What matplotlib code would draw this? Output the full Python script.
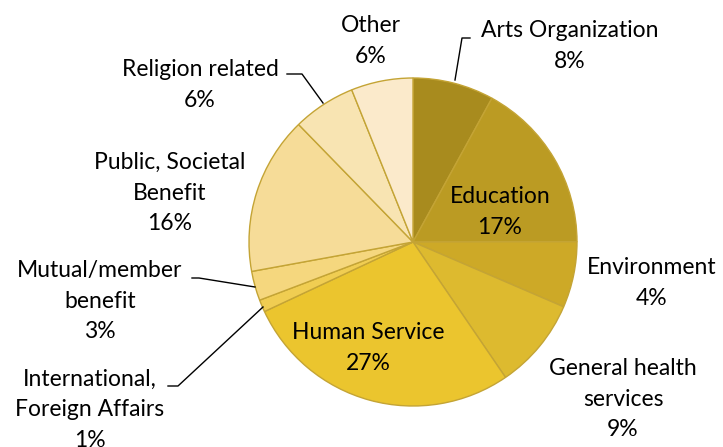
import matplotlib
matplotlib.use("Agg")
import matplotlib.pyplot as plt

# wedge sizes (clockwise from 12 o'clock)
categories = ["Arts Organization", "Education", "Environment", "General health\nservices",
              "Human Service", "International,\nForeign Affairs", "Mutual/member\nbenefit",
              "Public, Societal\nBenefit", "Religion related", "Other"]
shares = [8.0, 17.0, 6.5, 9.0, 27.6, 1.2, 2.9, 15.6, 6.2, 6.1]
pct_labels = ["8%", "17%", "4%", "9%", "27%", "1%", "3%", "16%", "6%", "6%"]
colors = ["#A88B1E", "#BB9B23", "#CDA927", "#DDBA2F", "#EBC52E",
          "#F0CD52", "#F5D77E", "#F6DC98", "#F8E4B2", "#FBEACB"]

plt.rcParams['font.family'] = ['Lato', 'DejaVu Sans']

W, H = 723, 447
fig = plt.figure(figsize=(W / 100, H / 100), dpi=100)
cx, cy, r = 413, 242, 164
ax = fig.add_axes([(cx - r) / W, (H - cy - r) / H, 2 * r / W, 2 * r / H])
ax.pie(shares, colors=colors, startangle=90, counterclock=False, radius=1,
       wedgeprops=dict(edgecolor="#C4A435", linewidth=1.0))
ax.set_xlim(-1, 1)
ax.set_ylim(-1, 1)
ax.set_aspect("equal")
ax.axis("off")

fs = 16.5
ls = 1.58


def px(x, y):
    # pixel coords (from top-left) -> figure fraction
    return x / W, 1 - y / H


# label centres in pixels
label_pos = [(570, 46), (500, 212), (652, 283), (623, 399), (368, 348),
             (90, 410), (100, 301), (170, 193), (200, 85), (371, 41)]

for name, pct, (x, y) in zip(categories, pct_labels, label_pos):
    fig.text(*px(x, y), name + "\n" + pct, ha="center", va="center",
             fontsize=fs, linespacing=ls, color="black")

# leader lines
leaders = [
    [(470, 38), (462, 38), (455, 80)],
    [(287, 74), (302, 74), (323, 103)],
    [(192, 278), (199, 278), (255, 287)],
    [(168, 386), (178, 386), (263, 307)],
]
for pts in leaders:
    xs = [p[0] / W for p in pts]
    ys = [1 - p[1] / H for p in pts]
    fig.add_artist(plt.Line2D(xs, ys, color="black", linewidth=1.0))

fig.savefig("out.png", dpi=100)
